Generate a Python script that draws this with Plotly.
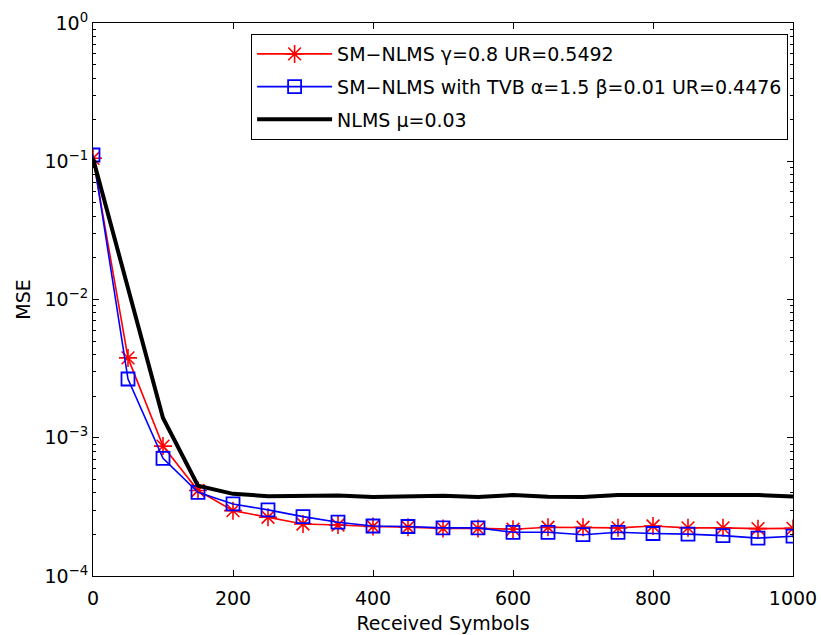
import plotly.graph_objects as go

symbols = [0, 50, 100, 150, 200, 250, 300, 350, 400, 450, 500,
           550, 600, 650, 700, 750, 800, 850, 900, 950, 1000]

mse_sm_nlms = [0.105, 3.78e-3, 8.7e-4, 4.15e-4, 2.97e-4, 2.66e-4, 2.38e-4, 2.34e-4,
               2.28e-4, 2.25e-4, 2.21e-4, 2.21e-4, 2.18e-4, 2.25e-4, 2.25e-4,
               2.23e-4, 2.30e-4, 2.23e-4, 2.23e-4, 2.20e-4, 2.21e-4]

mse_sm_nlms_tvb = [0.111, 2.66e-3, 7.1e-4, 4.03e-4, 3.32e-4, 3.01e-4, 2.69e-4, 2.45e-4,
                   2.30e-4, 2.28e-4, 2.23e-4, 2.23e-4, 2.07e-4, 2.07e-4, 1.99e-4,
                   2.07e-4, 2.03e-4, 2.01e-4, 1.96e-4, 1.88e-4, 1.94e-4]

mse_nlms = [0.105, 1.21e-2, 1.39e-3, 4.5e-4, 3.93e-4, 3.78e-4, 3.82e-4, 3.82e-4,
            3.72e-4, 3.76e-4, 3.80e-4, 3.72e-4, 3.85e-4, 3.74e-4, 3.72e-4,
            3.85e-4, 3.85e-4, 3.80e-4, 3.80e-4, 3.85e-4, 3.76e-4]

names = ["SM−NLMS γ=0.8 UR=0.5492",
         "SM−NLMS with TVB α=1.5 β=0.01 UR=0.4476",
         "NLMS μ=0.03"]

x_ticks = [0, 200, 400, 600, 800, 1000]
y_ticks = [1e0, 1e-1, 1e-2, 1e-3, 1e-4]
y_ticktext = ["10<sup>0</sup>", "10<sup>−1</sup>", "10<sup>−2</sup>",
              "10<sup>−3</sup>", "10<sup>−4</sup>"]
y_minor = [m * 10.0 ** e for e in (-4, -3, -2, -1) for m in range(2, 10)]

FONT = "DejaVu Sans, Liberation Sans, Arial, sans-serif"
FS = 19

fig = go.Figure()
fig.add_trace(go.Scatter(
    x=symbols, y=mse_sm_nlms, name=names[0], mode="lines+markers",
    line=dict(color="#FF0000", width=1.6),
    marker=dict(symbol="asterisk-open", size=15, line=dict(color="#FF0000", width=1.6)),
    legendgroup="a"))
fig.add_trace(go.Scatter(
    x=symbols, y=mse_sm_nlms_tvb, name=names[1], mode="lines+markers",
    line=dict(color="#0000FF", width=1.6),
    marker=dict(symbol="square-open", size=13, color="#0000FF",
                line=dict(color="#0000FF", width=1.8)),
    legendgroup="b"))
fig.add_trace(go.Scatter(
    x=symbols, y=mse_nlms, name=names[2], mode="lines",
    line=dict(color="#000000", width=4),
    legendgroup="c"))

axis_common = dict(
    showline=True, linecolor="black", linewidth=1, mirror="ticks",
    ticks="inside", tickcolor="black", ticklen=6, showgrid=False, zeroline=False,
    tickfont=dict(family=FONT, size=FS, color="black"), automargin=False,
)

fig.update_xaxes(
    range=[0, 1000], tickvals=x_ticks, ticklabelstandoff=5,
    title=dict(text="Received Symbols", font=dict(family=FONT, size=FS, color="black"),
               standoff=8),
    **axis_common)
fig.update_yaxes(
    type="log", range=[-4, 0], tickvals=y_ticks, ticktext=y_ticktext,
    minor=dict(tickmode="array", tickvals=y_minor, ticks="inside", ticklen=3,
               tickcolor="black", showgrid=False),
    title=dict(text="MSE", font=dict(family=FONT, size=FS, color="black"), standoff=8),
    **axis_common)

fig.update_layout(
    width=821, height=635,
    margin=dict(l=93, r=28, t=23, b=59),
    paper_bgcolor="white", plot_bgcolor="white",
    font=dict(family=FONT, size=FS, color="black"),
    showlegend=True,
    legend=dict(x=0.993, y=0.98, xanchor="right", yanchor="top",
                bordercolor="black", borderwidth=1, bgcolor="white",
                font=dict(family=FONT, size=FS, color="black"),
                tracegroupgap=5, itemwidth=75),
)

fig.write_html("out.html")
